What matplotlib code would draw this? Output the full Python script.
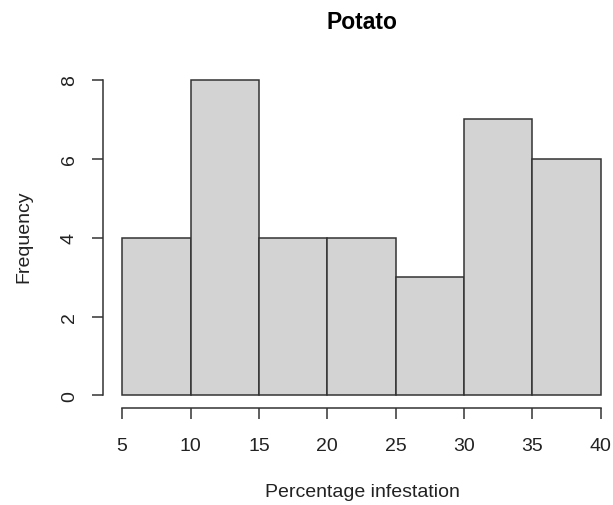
import numpy as np
import matplotlib
matplotlib.use("Agg")
from matplotlib import pyplot as plt

# histogram data
bin_edges = [5, 10, 15, 20, 25, 30, 35, 40]
counts = [4, 8, 4, 4, 3, 7, 6]
x_ticks = [5, 10, 15, 20, 25, 30, 35, 40]
y_ticks = [0, 2, 4, 6, 8]

plt.rcParams['font.family'] = ['Liberation Sans', 'DejaVu Sans']

fig = plt.figure(figsize=(6.13, 5.06), dpi=100)
ax = fig.add_axes([103 / 613, 97 / 506, 517 / 613, 340.6 / 506])

ax.bar(bin_edges[:-1], counts, width=np.diff(bin_edges), align="edge",
       facecolor="#D3D3D3", edgecolor="#333333", linewidth=1.1)

ax.set_xlim(3.6, 41.4)
ax.set_ylim(-0.32, 8.32)

for side in ['top', 'right']:
    ax.spines[side].set_visible(False)
ax.spines['left'].set_bounds(0, 8)
ax.spines['bottom'].set_bounds(5, 40)
for side in ['left', 'bottom']:
    ax.spines[side].set_linewidth(1.1)
    ax.spines[side].set_color("#333333")

ax.set_xticks(x_ticks)
ax.set_yticks(y_ticks)
ax.set_yticklabels([str(v) for v in y_ticks], rotation=90, va="center")
ax.tick_params(axis='both', length=8, width=1.1, color="#333333",
               labelsize=14, labelcolor="#222222")
ax.tick_params(axis='x', pad=13)
ax.tick_params(axis='y', pad=10)

fig.text(362 / 613, 1 - 29 / 506, "Potato", ha="center", va="baseline",
         fontsize=16.5, fontweight="bold")
fig.text(362 / 613, 1 - 497 / 506, "Percentage infestation", ha="center",
         va="baseline", fontsize=14, color="#222222")
fig.text(24 / 613, 1 - 237 / 506, "Frequency", ha="center", va="center",
         rotation=90, fontsize=14, color="#222222")

fig.savefig("out.png", dpi=100)
